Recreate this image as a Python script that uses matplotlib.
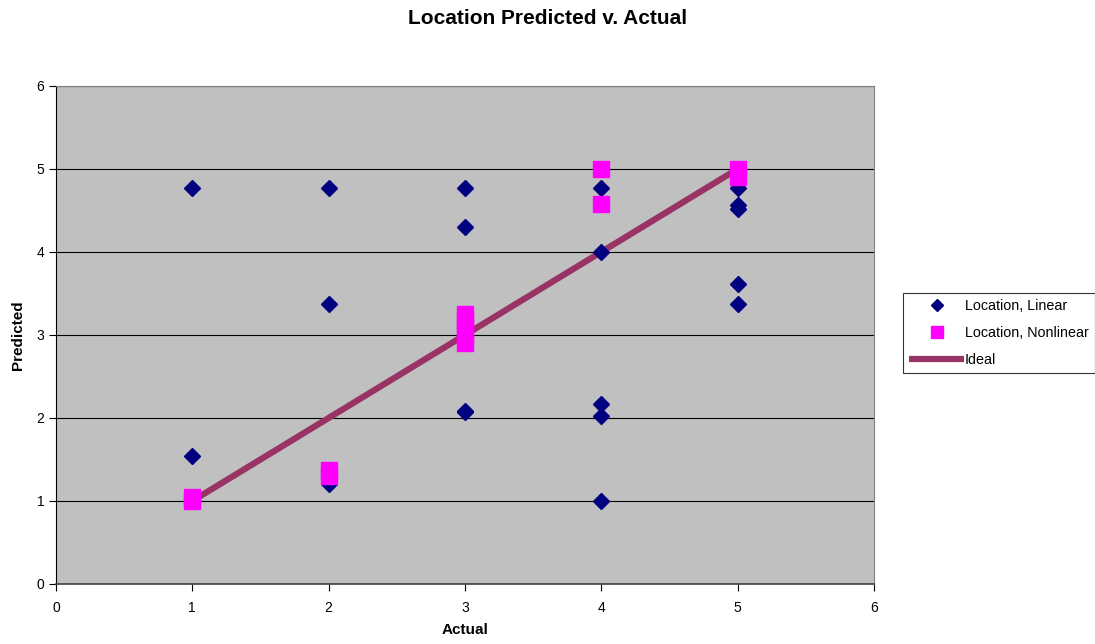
import matplotlib
matplotlib.use('Agg')
import matplotlib.pyplot as plt

plt.rcParams['font.family'] = ['Liberation Sans', 'DejaVu Sans']

# Location, Linear
lin_x = [1, 1, 2, 2, 2, 3, 3, 3, 3, 4, 4, 4, 4, 4, 5, 5, 5, 5, 5, 5]
lin_y = [4.77, 1.54, 4.77, 3.37, 1.2, 4.77, 4.3, 2.07, 2.08, 4.77, 4.0, 2.17, 2.02, 1.0,
         4.77, 4.56, 4.52, 3.62, 3.37, 4.88]

# Location, Nonlinear
non_x = [1, 1, 2, 2, 3, 3, 3, 3, 3, 4, 4, 5, 5]
non_y = [1.0, 1.05, 1.3, 1.37, 2.9, 3.0, 3.08, 3.17, 3.25, 5.0, 4.58, 5.0, 4.9]

# Ideal
ideal_x = [1, 5]
ideal_y = [1, 5]

fig = plt.figure(figsize=(10.95, 6.44), dpi=100)
ax = fig.add_axes([0.0511, 0.0932, 0.747, 0.7733])
ax.set_facecolor('#C0C0C0')

ax.plot(ideal_x, ideal_y, color='#993366', linewidth=4.5, solid_capstyle='butt', label='Ideal', zorder=2)
ax.plot(lin_x, lin_y, linestyle='none', marker='D', markersize=8, color='#000080', label='Location, Linear', zorder=3)
ax.plot(non_x, non_y, linestyle='none', marker='s', markersize=11, color='#FF00FF', label='Location, Nonlinear', zorder=4)

ax.set_xlim(0, 6)
ax.set_ylim(0, 6)
ax.set_xticks(range(7))
ax.set_yticks(range(7))
ax.yaxis.grid(True, color='black', linewidth=0.8)
ax.set_axisbelow(True)
ax.spines['top'].set_color('#808080')
ax.spines['right'].set_color('#808080')
ax.spines['left'].set_color('black')
ax.spines['bottom'].set_color('#404040')
ax.spines['bottom'].set_linewidth(1.2)
ax.tick_params(labelsize=10, direction='out', length=5, color='black')
ax.tick_params(axis='x', pad=7)

ax.set_xlabel('Actual', fontsize=11, fontweight='bold', labelpad=6)
ax.set_ylabel('Predicted', fontsize=11, fontweight='bold', labelpad=8)
fig.text(0.5, 0.972, 'Location Predicted v. Actual', ha='center', va='center', fontsize=15, fontweight='bold')

h, l = ax.get_legend_handles_labels()
order = [1, 2, 0]
leg = fig.legend([h[i] for i in order], [l[i] for i in order], loc='upper left',
                 bbox_to_anchor=(0.8247, 0.545), fontsize=10.3, frameon=True, fancybox=False,
                 edgecolor='black', handlelength=3.8, handletextpad=0.05, borderpad=0.45,
                 labelspacing=0.88, borderaxespad=0, markerscale=0.8)
leg.get_frame().set_linewidth(0.8)

fig.savefig('out.png', dpi=100)
